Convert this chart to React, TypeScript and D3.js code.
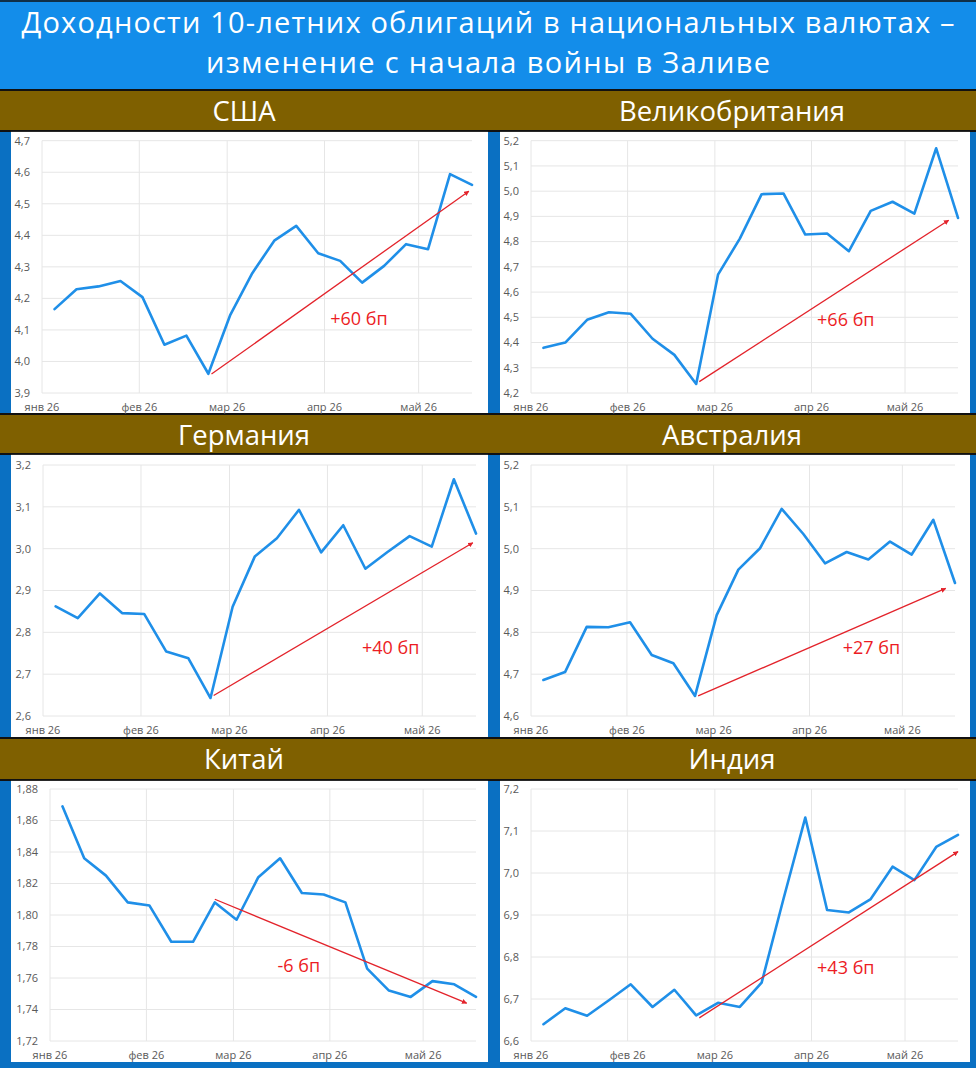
import React, { useEffect, useRef } from 'react';
import * as d3 from 'd3';

// weekly observations
const dates = [
  "2026-01-05", "2026-01-12", "2026-01-19", "2026-01-26",
  "2026-02-02", "2026-02-09", "2026-02-16", "2026-02-23",
  "2026-03-02", "2026-03-09", "2026-03-16", "2026-03-23", "2026-03-30",
  "2026-04-06", "2026-04-13", "2026-04-20", "2026-04-27",
  "2026-05-04", "2026-05-11", "2026-05-18",
];

const monthTicks = ["2026-01-01", "2026-02-01", "2026-03-01", "2026-04-01", "2026-05-01"];
const monthLabels = ["янв 26", "фев 26", "мар 26", "апр 26", "май 26"];
const axisStart = "2026-01-01";
const axisEnd = "2026-05-18";

const countries = ["США", "Великобритания", "Германия", "Австралия", "Китай", "Индия"];

const usYields = [4.166, 4.229, 4.238, 4.255, 4.204, 4.053, 4.082, 3.961, 4.148, 4.28, 4.383, 4.43, 4.343, 4.319, 4.25, 4.303, 4.372, 4.356, 4.594, 4.56];
const ukYields = [4.379, 4.4, 4.49, 4.52, 4.514, 4.415, 4.351, 4.236, 4.669, 4.812, 4.988, 4.991, 4.828, 4.832, 4.762, 4.922, 4.958, 4.911, 5.17, 4.894];
const deYields = [2.862, 2.834, 2.893, 2.846, 2.844, 2.754, 2.738, 2.643, 2.861, 2.981, 3.025, 3.093, 2.991, 3.056, 2.952, 2.992, 3.03, 3.005, 3.166, 3.036];
const auYields = [4.686, 4.705, 4.813, 4.812, 4.824, 4.746, 4.726, 4.648, 4.841, 4.95, 5.001, 5.095, 5.035, 4.965, 4.992, 4.974, 5.017, 4.986, 5.069, 4.918];
const cnYields = [1.869, 1.836, 1.825, 1.808, 1.806, 1.783, 1.783, 1.808, 1.797, 1.824, 1.836, 1.814, 1.813, 1.808, 1.766, 1.752, 1.748, 1.758, 1.756, 1.748];
const inYields = [6.64, 6.678, 6.66, 6.697, 6.735, 6.681, 6.722, 6.661, 6.691, 6.681, 6.739, 6.938, 7.132, 6.912, 6.906, 6.938, 7.015, 6.983, 7.062, 7.091];

const yDomains = [[3.9, 4.7], [4.2, 5.2], [2.6, 3.2], [4.6, 5.2], [1.72, 1.88], [6.6, 7.2]];
const yTickSteps = [0.1, 0.1, 0.1, 0.1, 0.02, 0.1];

// red trend arrows: [date, value]
const arrowFrom = [["2026-02-24", 3.96], ["2026-02-24", 4.245], ["2026-02-24", 2.649], ["2026-02-24", 4.648], ["2026-02-23", 1.81], ["2026-02-24", 6.655]];
const arrowTo = [["2026-05-17", 4.54], ["2026-05-15", 4.885], ["2026-05-17", 3.014], ["2026-05-15", 4.905], ["2026-05-15", 1.744], ["2026-05-18", 7.051]];
const changeLabels = ["+60 бп", "+66 бп", "+40 бп", "+27 бп", "-6 бп", "+43 бп"];
const labelAnchors = [["2026-04-12", 4.135], ["2026-04-12", 4.491], ["2026-04-21", 2.764], ["2026-04-21", 4.764], ["2026-03-22", 1.768], ["2026-04-12", 6.775]];

const titleLines = ["Доходности 10-летних облигаций в национальных валютах –", "изменение с начала войны в Заливе"];

export default function App() {
  const svgRef = useRef<SVGSVGElement>(null);

  useEffect(() => {
    if (!svgRef.current) return;
    const svg = d3.select(svgRef.current);
    svg.selectAll("*").remove();

    const W = 976, H = 1068;
    const font = "'Open Sans', 'Noto Sans', sans-serif";
    const parse = d3.timeParse("%Y-%m-%d");
    const series = [usYields, ukYields, deYields, auYields, cnYields, inYields];

    // layout
    const rows = [
      { hdr: 90, hdrH: 41, top: 131, bottom: 414, plotTop: 140.7, plotBottom: 393 },
      { hdr: 414, hdrH: 40, top: 454, bottom: 738, plotTop: 465, plotBottom: 716 },
      { hdr: 738, hdrH: 42, top: 780, bottom: 1062, plotTop: 789, plotBottom: 1041 },
    ];
    const cols = [{ x0: 0, x1: 488, white0: 11, white1: 488 }, { x0: 488, x1: 976, white0: 500, white1: 970 }];
    const plotX = [[42, 472], [531, 958], [43, 476], [531, 955], [50, 476], [531, 958]];
    const titleY = [33, 73];
    const titleW = [933, 564];

    svg.attr("width", W).attr("height", H);

    svg.append("defs").append("marker")
      .attr("id", "arrowHead")
      .attr("viewBox", "0 0 10 10")
      .attr("refX", 9).attr("refY", 5)
      .attr("markerWidth", 4).attr("markerHeight", 4)
      .attr("markerUnits", "strokeWidth")
      .attr("orient", "auto")
      .append("path")
      .attr("d", "M0,0 L10,5 L0,10 z")
      .attr("fill", "#e3232b");

    // background
    svg.append("rect").attr("width", W).attr("height", H).attr("fill", "#0a70c2");
    svg.append("rect").attr("width", W).attr("height", 90).attr("fill", "#138dea");
    svg.append("line").attr("x1", 0).attr("x2", W).attr("y1", 1).attr("y2", 1)
      .attr("stroke", "#111").attr("stroke-width", 1.6);

    svg.selectAll("text.title")
      .data(titleLines)
      .enter()
      .append("text")
      .attr("class", "title")
      .attr("x", W / 2)
      .attr("y", (d, i) => titleY[i])
      .attr("text-anchor", "middle")
      .attr("fill", "#ffffff")
      .attr("font-family", font)
      .attr("font-size", 29)
      .attr("textLength", (d, i) => titleW[i])
      .attr("lengthAdjust", "spacing")
      .text(d => d);

    rows.forEach(r => {
      svg.append("rect").attr("x", 0).attr("y", r.hdr).attr("width", W).attr("height", r.hdrH)
        .attr("fill", "#7f6000");
      [r.hdr, r.hdr + r.hdrH].forEach(y => {
        svg.append("line").attr("x1", 0).attr("x2", W).attr("y1", y).attr("y2", y)
          .attr("stroke", "#111").attr("stroke-width", 1.8);
      });
      cols.forEach(c => {
        svg.append("rect")
          .attr("x", c.white0).attr("y", r.top + 0.9)
          .attr("width", c.white1 - c.white0).attr("height", r.bottom - r.top - (r.bottom === 1062 ? 0.9 : 1.8))
          .attr("fill", "#ffffff");
      });
    });

    countries.forEach((name, i) => {
      const r = rows[Math.floor(i / 2)];
      const c = cols[i % 2];
      const data = series[i];

      svg.append("text")
        .attr("x", (c.x0 + c.x1) / 2)
        .attr("y", r.hdr + 31)
        .attr("text-anchor", "middle")
        .attr("fill", "#ffffff")
        .attr("font-family", font)
        .attr("font-size", 27.5)
        .text(name);

      const x = d3.scaleTime()
        .domain([parse(axisStart)!, parse(axisEnd)!])
        .range(plotX[i]);
      const [lo, hi] = yDomains[i];
      const y = d3.scaleLinear().domain([lo, hi]).range([r.plotBottom, r.plotTop]);
      const step = yTickSteps[i];
      const yTicks = d3.range(0, Math.round((hi - lo) / step) + 1).map(k => +(lo + k * step).toFixed(3));
      const digits = step < 0.05 ? 2 : 1;

      const g = svg.append("g");

      // gridlines
      g.selectAll("line.h")
        .data(yTicks)
        .enter()
        .append("line")
        .attr("x1", plotX[i][0]).attr("x2", plotX[i][1])
        .attr("y1", d => y(d)).attr("y2", d => y(d))
        .attr("stroke", "#e6e6e6").attr("stroke-width", 1);

      g.selectAll("line.v")
        .data(monthTicks)
        .enter()
        .append("line")
        .attr("x1", d => x(parse(d)!)).attr("x2", d => x(parse(d)!))
        .attr("y1", r.plotTop).attr("y2", r.plotBottom)
        .attr("stroke", "#e6e6e6").attr("stroke-width", 1);

      // tick labels
      g.selectAll("text.yt")
        .data(yTicks)
        .enter()
        .append("text")
        .attr("x", plotX[i][0] - 12)
        .attr("y", d => y(d))
        .attr("dy", "0.35em")
        .attr("text-anchor", "end")
        .attr("fill", "#595959")
        .attr("font-family", font)
        .attr("font-size", 11)
        .text(d => d.toFixed(digits).replace(".", ","));

      g.selectAll("text.xt")
        .data(monthTicks)
        .enter()
        .append("text")
        .attr("x", d => x(parse(d)!))
        .attr("y", r.plotBottom + 14)
        .attr("dy", "0.35em")
        .attr("text-anchor", "middle")
        .attr("fill", "#595959")
        .attr("font-family", font)
        .attr("font-size", 11)
        .text((d, k) => monthLabels[k]);

      // yield line
      const line = d3.line<number>()
        .x((d, k) => x(parse(dates[k])!))
        .y(d => y(d));

      g.append("path")
        .datum(data)
        .attr("d", line)
        .attr("fill", "none")
        .attr("stroke", "#1f8fe8")
        .attr("stroke-width", 2.6)
        .attr("stroke-linejoin", "round")
        .attr("stroke-linecap", "round");

      // trend arrow
      const [d0, v0] = arrowFrom[i];
      const [d1, v1] = arrowTo[i];
      g.append("line")
        .attr("x1", x(parse(d0 as string)!)).attr("y1", y(v0 as number))
        .attr("x2", x(parse(d1 as string)!)).attr("y2", y(v1 as number))
        .attr("stroke", "#e3232b")
        .attr("stroke-width", 1.3)
        .attr("marker-end", "url(#arrowHead)");

      const [ld, lv] = labelAnchors[i];
      g.append("text")
        .attr("x", x(parse(ld as string)!))
        .attr("y", y(lv as number))
        .attr("dy", "0.35em")
        .attr("text-anchor", "middle")
        .attr("fill", "#ec1c24")
        .attr("font-family", font)
        .attr("font-size", 18)
        .text(changeLabels[i]);
    });
  }, []);

  return (
    <div style={{ position: "absolute", left: 0, top: 0 }}>
      <svg ref={svgRef} style={{ display: "block" }}></svg>
    </div>
  );
}
